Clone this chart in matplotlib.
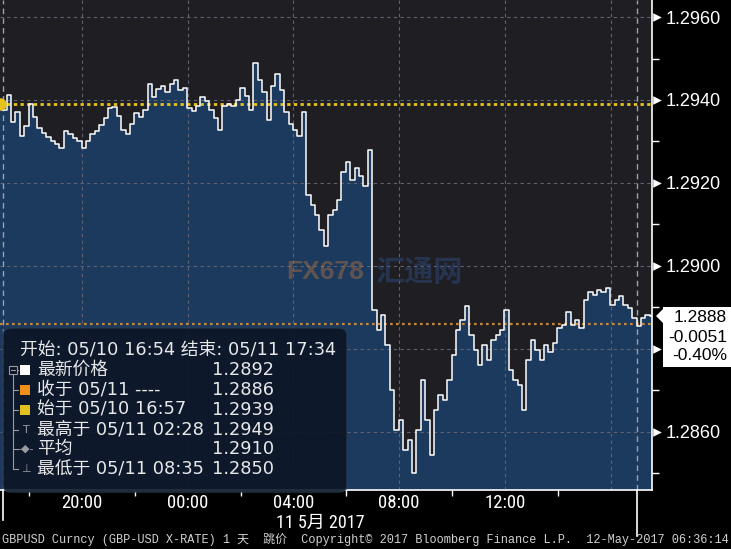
import numpy as np
import matplotlib
matplotlib.use('Agg')
from matplotlib import pyplot as plt
from matplotlib import font_manager
from matplotlib.patches import FancyBboxPatch, Polygon, Rectangle
from matplotlib.lines import Line2D
from matplotlib.transforms import blended_transform_factory

# region data
# minutes after 05/10 16:54, one reading every 10 minutes up to 05/11 17:34
minutes = np.arange(0, 1481, 10)
price = [
    1.29388, 1.29376, 1.29412, 1.29347, 1.29371, 1.29313, 1.29337, 1.29390, 1.29359, 1.29332,
    1.29320, 1.29311, 1.29301, 1.29294, 1.29284, 1.29325, 1.29318, 1.29308, 1.29301, 1.29284,
    1.29301, 1.29318, 1.29325, 1.29340, 1.29357, 1.29381, 1.29383, 1.29361, 1.29328, 1.29318,
    1.29342, 1.29369, 1.29359, 1.29376, 1.29439, 1.29407, 1.29426, 1.29434, 1.29419, 1.29439,
    1.29448, 1.29424, 1.29429, 1.29381, 1.29373, 1.29386, 1.29407, 1.29398, 1.29376, 1.29357,
    1.29328, 1.29386, 1.29390, 1.29386, 1.29400, 1.29429, 1.29410, 1.29376, 1.29490, 1.29448,
    1.29419, 1.29352, 1.29434, 1.29463, 1.29424, 1.29371, 1.29342, 1.29328, 1.29313, 1.29371,
    1.29171, 1.29147, 1.29123, 1.29087, 1.29048, 1.29123, 1.29135, 1.29159, 1.29226, 1.29251,
    1.29207, 1.29236, 1.29217, 1.29193, 1.29279, 1.28894, 1.28846, 1.28882, 1.28810, 1.28701,
    1.28605, 1.28629, 1.28557, 1.28581, 1.28500, 1.28605, 1.28725, 1.28629, 1.28544, 1.28653,
    1.28689, 1.28677, 1.28725, 1.28785, 1.28846, 1.28870, 1.28904, 1.28834, 1.28797, 1.28761,
    1.28810, 1.28773, 1.28822, 1.28834, 1.28846, 1.28894, 1.28749, 1.28725, 1.28713, 1.28653,
    1.28773, 1.28822, 1.28797, 1.28773, 1.28810, 1.28793, 1.28814, 1.28850, 1.28858, 1.28889,
    1.28858, 1.28870, 1.28850, 1.28918, 1.28937, 1.28930, 1.28942, 1.28937, 1.28947, 1.28906,
    1.28918, 1.28928, 1.28906, 1.28899, 1.28875, 1.28855, 1.28875, 1.28882, 1.28880,
]

xtick_min = [186, 426, 666, 906, 1146, 1386]
xtick_labels = ['20:00', '00:00', '04:00', '08:00', '12:00', '']
xminor_min = [66, 306, 546, 786, 1026, 1266]
date_label = '11 5月 2017'

ytick_vals = [1.2860, 1.2880, 1.2900, 1.2920, 1.2940, 1.2960]
ytick_labels = ['1.2860', '', '1.2900', '1.2920', '1.2940', '1.2960']
yminor_vals = [1.2850, 1.2870, 1.2890, 1.2910, 1.2930, 1.2950]

open_px = 1.2939
close_prev = 1.2886
last_txt = ['1.2888', '-0.0051', '-0.40%']

legend_title = '开始: 05/10 16:54 结束: 05/11 17:34'
legend_labels = ['最新价格', '收于 05/11 ----', '始于 05/10 16:57',
                 '最高于 05/11 02:28', '平均', '最低于 05/11 08:35']
legend_values = ['1.2892', '1.2886', '1.2939', '1.2949', '1.2910', '1.2850']

footer = ('GBPUSD Curncy (GBP-USD X-RATE) 1 天  跳价  Copyright© 2017 '
          'Bloomberg Finance L.P.  12-May-2017 06:36:14')
# endregion

W, H = 731, 549
installed = {f.name for f in font_manager.fontManager.ttflist}
narrow = next((n for n in ['Liberation Sans Narrow', 'DejaVu Sans Condensed', 'Roboto Condensed']
               if n in installed), 'Liberation Sans')
CJK = 'Noto Sans CJK SC'


def fx(x):
    return x / W


def fy(y):
    return 1 - y / H


fig = plt.figure(figsize=(W / 100, H / 100), dpi=100, facecolor='black')
ax = fig.add_axes([0, fy(490), 652 / W, 490 / H])
ax.set_facecolor('#1f1e23')
ax.set_xlim(0, 1480)
ax.set_ylim(1.28460, 1.29641)

# grid
for v in ytick_vals:
    ax.axhline(v, color='#62626e', lw=0.8, ls=(0, (3, 3)), zorder=1.5)
for v in xtick_min:
    ax.axvline(v, color='#62626e', lw=0.8, ls=(0, (3, 3)), zorder=1.5)
for v in [7, 1446]:
    ax.axvline(v, color='#a0a0aa', lw=1.0, ls=(0, (4, 3)), zorder=1.6)

ax.fill_between(minutes, price, 1.28460, color='#1c3a5e', lw=0, zorder=1, step='mid')
ax.plot(minutes, price, color='white', lw=1.1, zorder=3, drawstyle='steps-mid')

ax.axhline(open_px, color='#e6c21c', lw=2.0, ls=(0, (1.2, 1.2)), zorder=2.5)
ax.axhline(close_prev, color='#c4873a', lw=1.6, ls=(0, (1.2, 1.5)), zorder=2.5)
ax.plot(0, open_px, 'o', color='#e6c21c', ms=8, zorder=4)

# spines
for s in ['top', 'left']:
    ax.spines[s].set_visible(False)
for s in ['bottom', 'right']:
    ax.spines[s].set_color('white')
    ax.spines[s].set_linewidth(1.2)

# y axis on the right
ax.yaxis.tick_right()
ax.set_yticks(ytick_vals)
ax.set_yticklabels(ytick_labels)
ax.set_yticks(yminor_vals, minor=True)
ax.tick_params(axis='y', which='major', length=0, pad=10, labelcolor='white', labelsize=13)
ax.tick_params(axis='y', which='minor', length=5, width=1, color='white', direction='out')
for lab in ax.get_yticklabels():
    lab.set_family('Liberation Sans')
trans = blended_transform_factory(ax.transAxes, ax.transData)
ax.scatter([1.008] * len(ytick_vals), ytick_vals, marker='>', s=38, color='white',
           transform=trans, clip_on=False, zorder=5, linewidths=0)

# x axis
ax.set_xticks(xtick_min)
ax.set_xticklabels(xtick_labels)
ax.set_xticks(xminor_min + [1386], minor=True)
ax.tick_params(axis='x', which='major', length=0, pad=3, labelcolor='white', labelsize=13.5)
ax.tick_params(axis='x', which='minor', length=4, width=1, color='white', direction='out')
for lab in ax.get_xticklabels():
    lab.set_family(narrow)
fig.text(fx(320), fy(523), date_label, color='white', fontsize=13,
         family=[narrow, CJK], ha='center', va='center')

fig.add_artist(Line2D([fx(3), fx(3)], [fy(490), fy(520)], color='white', lw=1.2))
fig.add_artist(Line2D([fx(637), fx(637)], [fy(490), fy(536)], color='white', lw=1.2))

# watermark
fig.text(fx(325), fy(272), 'FX678', color='#c77a3a', alpha=0.4, fontsize=19,
         fontweight='bold', ha='center', va='center', family='Liberation Sans')
fig.text(fx(419), fy(272), '汇通网', color='#2f4f86', alpha=0.45, fontsize=21,
         fontweight='bold', ha='center', va='center', family=CJK)

# legend box
box = FancyBboxPatch((fx(3), fy(492)), fx(344), 164 / H,
                     boxstyle='round,pad=0,rounding_size=0.012',
                     transform=fig.transFigure, facecolor='#0b1424', alpha=0.88,
                     edgecolor='#2a3a50', lw=1)
fig.add_artist(box)
fig.text(fx(20), fy(349), legend_title, color='#e8e8e8', fontsize=12.8,
         family=['DejaVu Sans', CJK], va='center')
row_y = [370, 390, 410, 430, 449, 469]
for y, lab, val in zip(row_y, legend_labels, legend_values):
    fig.text(fx(37), fy(y), lab, color='#e8e8e8', fontsize=12.8,
             family=['DejaVu Sans', CJK], va='center')
    fig.text(fx(212), fy(y), val, color='#e8e8e8', fontsize=12.8,
             family='DejaVu Sans', va='center')
    fig.add_artist(Line2D([fx(13), fx(18)], [fy(y), fy(y)], color='#9a9aa0', lw=0.8))
fig.add_artist(Line2D([fx(13), fx(13)], [fy(374), fy(469)], color='#9a9aa0', lw=0.8))
fig.add_artist(Rectangle((fx(9), fy(374)), fx(8), 8 / H, transform=fig.transFigure,
                         facecolor='#0b1424', edgecolor='#9a9aa0', lw=0.8, zorder=2))
fig.add_artist(Line2D([fx(11), fx(15)], [fy(370), fy(370)], color='#9a9aa0', lw=0.8,
                      zorder=3))
for y, c in zip(row_y[:3], ['white', '#f0901a', '#e2c020']):
    fig.add_artist(Rectangle((fx(20), fy(y + 5)), fx(10), 10 / H, transform=fig.transFigure,
                             facecolor=c, edgecolor='none'))
for y, sym in zip(row_y[3:], ['T', '-◆-', '⊥']):
    fig.text(fx(26), fy(y), sym, color='#9a9aa0', fontsize=8, ha='center', va='center',
             family='DejaVu Sans')

# last price flag
flag = Polygon([(fx(656), fy(316)), (fx(663), fy(309)), (fx(663), fy(307)),
                (fx(731), fy(307)), (fx(731), fy(367)), (fx(663), fy(367)),
                (fx(663), fy(323))], closed=True, transform=fig.transFigure,
               facecolor='white', edgecolor='none')
fig.add_artist(flag)
for y, t in zip([317, 337, 356], last_txt):
    fig.text(fx(727), fy(y), t, color='black', fontsize=12.5, ha='right', va='center',
             family='Liberation Sans')

fig.text(fx(2), fy(540), footer, color='#d0d0d0', fontsize=8.6,
         family=['Liberation Mono', CJK], va='center')

fig.savefig('out.png', dpi=100, facecolor='black')
